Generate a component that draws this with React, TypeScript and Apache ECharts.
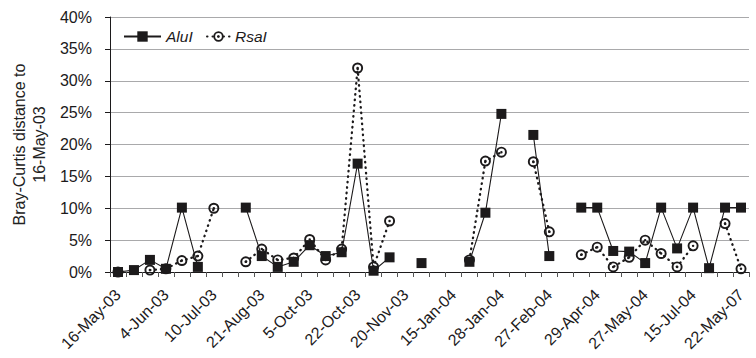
import React, { useEffect, useRef } from "react";
import * as echarts from "echarts";

// Tick labels shown every third sampling date (hidden ones left blank)
const labeledDates = [
  "16-May-03", "4-Jun-03", "10-Jul-03", "21-Aug-03", "5-Oct-03", "22-Oct-03", "20-Nov-03",
  "15-Jan-04", "28-Jan-04", "27-Feb-04", "29-Apr-04", "27-May-04", "15-Jul-04", "22-May-07",
];
const sampleCount = 40;
const categories: string[] = Array.from({ length: sampleCount }, (_, i) =>
  i % 3 === 0 ? labeledDates[i / 3] : ""
);

const aluI: (number | null)[] = [
  0, 0.3, 1.9, 0.5, 10.1, 0.8, null, null, 10.1, 2.5,
  0.8, 1.6, 4.2, 2.5, 3.1, 17.0, 0.2, 2.3, null, 1.4,
  null, null, 1.6, 9.3, 24.8, null, 21.5, 2.5, null, 10.1,
  10.1, 3.3, 3.2, 1.4, 10.1, 3.7, 10.1, 0.6, 10.1, 10.1,
];

const rsaI: (number | null)[] = [
  0, null, 0.3, 0.5, 1.8, 2.5, 10.0, null, 1.6, 3.6,
  1.9, 2.2, 5.1, 1.9, 3.6, 32.0, 0.8, 8.0, null, null,
  null, null, 1.9, 17.4, 18.8, null, 17.3, 6.3, null, 2.7,
  3.9, 0.8, 2.3, 5.0, 2.9, 0.8, 4.1, null, 7.6, 0.5,
];

const FONT = "'Liberation Sans', Arial, Helvetica, sans-serif";
const INK = "#1c1a1b";

const ringDot =
  "path://M12 0A12 12 0 1 1 12 24A12 12 0 1 1 12 0Z" +
  "M12 4.2A7.8 7.8 0 1 0 12 19.8A7.8 7.8 0 1 0 12 4.2Z" +
  "M12 9.3A2.7 2.7 0 1 1 12 14.7A2.7 2.7 0 1 1 12 9.3Z";

export default function App() {
  const ref = useRef<HTMLDivElement>(null);
  useEffect(() => {
    if (!ref.current) return;
    const chart = echarts.init(ref.current, undefined, { renderer: "svg" });
    const legendText = { fontFamily: FONT, fontSize: 15.5, fontStyle: "italic", color: INK };
    chart.setOption({
      animation: false,
      backgroundColor: "#ffffff",
      textStyle: { fontFamily: FONT },
      grid: {
        left: 110,
        right: 7,
        top: 17,
        bottom: 86,
        containLabel: false,
        outerBoundsMode: "none",
      },
      legend: [
        {
          data: ["AluI"],
          left: 123,
          top: 28.5,
          padding: 0,
          itemWidth: 37,
          itemHeight: 13,
          textStyle: legendText,
        },
        {
          data: ["RsaI"],
          left: 206,
          top: 28.5,
          padding: 0,
          itemWidth: 23,
          itemHeight: 13,
          textStyle: legendText,
        },
      ],
      xAxis: {
        type: "category",
        data: categories,
        boundaryGap: true,
        axisLine: { lineStyle: { color: INK, width: 1 } },
        axisTick: { show: true, interval: 0, length: 5, lineStyle: { color: "#555" } },
        axisLabel: {
          interval: 2,
          rotate: 45,
          margin: 20,
          fontSize: 16,
          fontFamily: FONT,
          color: INK,
        },
        splitLine: { show: false },
      },
      yAxis: {
        type: "value",
        min: 0,
        max: 40,
        interval: 5,
        name: "Bray-Curtis distance to\n16-May-03",
        nameLocation: "middle",
        nameGap: 61,
        nameMoveOverlap: false,
        nameRotate: 90,
        nameTextStyle: { fontFamily: FONT, fontSize: 16, color: "#222", lineHeight: 20 },
        axisLine: { show: true, lineStyle: { color: INK, width: 1 } },
        axisTick: { show: true, length: 5, lineStyle: { color: INK } },
        axisLabel: {
          formatter: "{value}%",
          fontSize: 16,
          fontFamily: FONT,
          color: INK,
          margin: 18,
        },
        splitLine: { show: true, lineStyle: { color: "#a9a9ab", width: 1 } },
      },
      series: [
        {
          name: "AluI",
          type: "line",
          data: aluI,
          connectNulls: false,
          symbol: "rect",
          symbolSize: 10,
          showAllSymbol: true,
          z: 3,
          lineStyle: { color: INK, width: 1.1, type: "solid" },
          itemStyle: { color: INK, borderWidth: 0 },
        },
        {
          name: "RsaI",
          type: "line",
          data: rsaI,
          connectNulls: false,
          symbol: ringDot,
          symbolSize: 11,
          showAllSymbol: true,
          z: 2,
          lineStyle: { color: INK, width: 2.3, type: [0.5, 5], cap: "round" },
          itemStyle: { color: INK, borderWidth: 0 },
        },
      ],
    });
    return () => chart.dispose();
  }, []);
  return (
    <div
      ref={ref}
      style={{ position: "fixed", left: 0, top: 0, width: 756, height: 358, background: "#fff" }}
    />
  );
}
